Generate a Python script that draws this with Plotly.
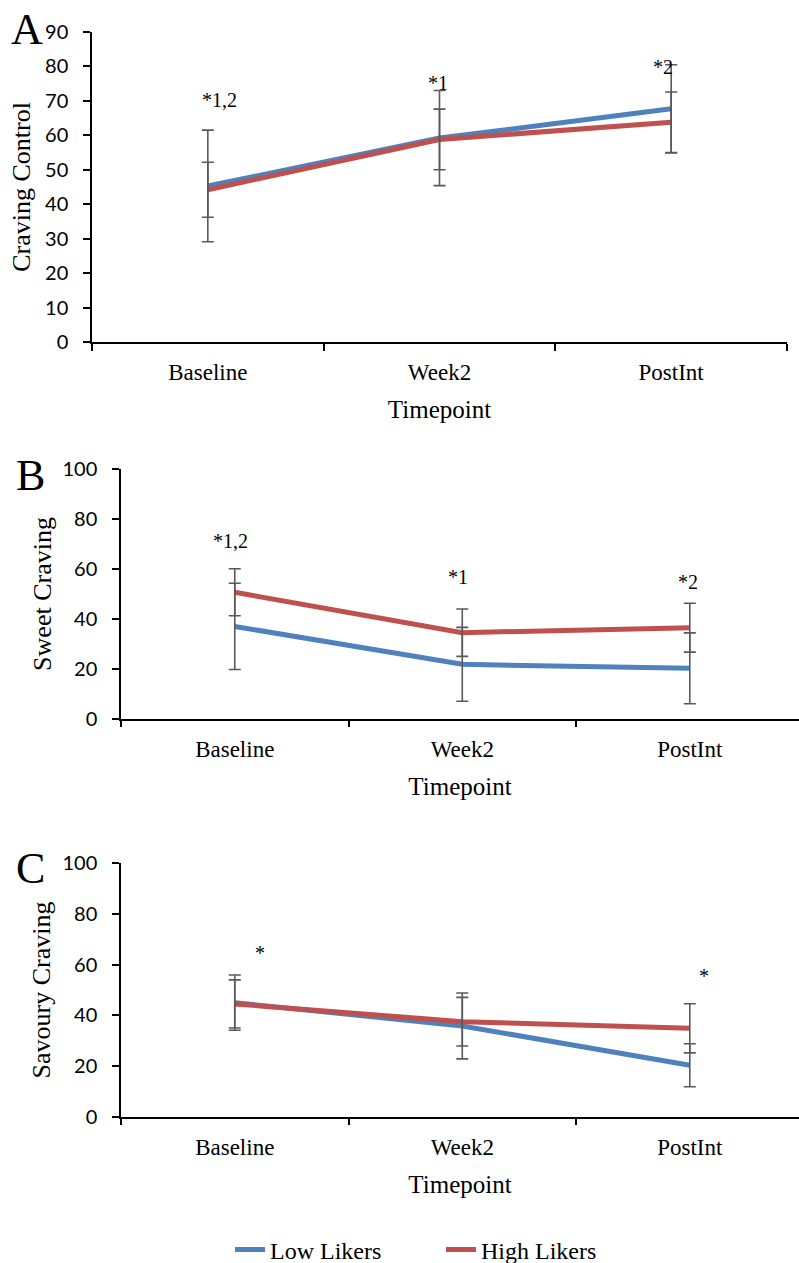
import plotly.graph_objects as go

# ---------------- data ----------------
categories = ["Baseline", "Week2", "PostInt"]
series_names = ["Low Likers", "High Likers"]

# Panel A: Craving Control
low_A = [45.3, 59.2, 67.7]
low_A_err = [16.2, 13.8, 12.8]
high_A = [44.2, 58.8, 63.8]
high_A_err = [8.0, 8.8, 8.8]
sig_A = ["*1,2", "*1", "*2"]
sig_A_y = [70.3, 75.2, 79.8]

# Panel B: Sweet Craving
low_B = [37.0, 21.8, 20.2]
low_B_err = [17.3, 14.8, 14.2]
high_B = [50.7, 34.5, 36.5]
high_B_err = [9.4, 9.5, 9.8]
sig_B = ["*1,2", "*1", "*2"]
sig_B_y = [71.2, 57.0, 55.0]

# Panel C: Savoury Craving
low_C = [45.0, 35.8, 20.3]
low_C_err = [10.9, 13.0, 8.5]
high_C = [44.5, 37.5, 34.9]
high_C_err = [9.5, 9.6, 9.7]
sig_C = ["*", "", "*"]
sig_C_y = [64.5, 0, 55.5]

y_titles = ["Craving Control", "Sweet Craving", "Savoury Craving"]
x_title = "Timepoint"
panel_letters = ["A", "B", "C"]
y_ranges = [[0, 90], [0, 100], [0, 100]]
y_dticks = [10, 20, 20]

# ---------------- style ----------------
W, H = 799, 1263
BLUE = "#4F81BD"
RED = "#C0504D"
ERR = "#595959"
SERIF = "Liberation Serif, Times New Roman, serif"
SANS = "Lato, Calibri, sans-serif"

# panel geometry in pixels: (x_left, x_right, y_top(at max), y_bottom(at 0), x_range_end)
geo = [
    (92, 787, 32, 342, 2.5),
    (121, 799, 469.3, 718.7, 2.48),
    (121, 799, 863.3, 1116.7, 2.48),
]
ytitle_standoff = [7, 3, 4]
sig_xshift = [[12, -2, -8], [-4, -4, -2], [25, 0, 14]]
letter_pos = [(27, 30), (30, 475), (30, 868)]

panels = [
    (low_A, low_A_err, high_A, high_A_err, sig_A, sig_A_y),
    (low_B, low_B_err, high_B, high_B_err, sig_B, sig_B_y),
    (low_C, low_C_err, high_C, high_C_err, sig_C, sig_C_y),
]

fig = go.Figure()
annotations = []

for i, (lo, lo_e, hi, hi_e, sig, sig_y) in enumerate(panels):
    ax = "" if i == 0 else str(i + 1)
    xref, yref = "x" + ax, "y" + ax
    show = (i == 2)
    # lines
    for vals, col, name in [(lo, BLUE, series_names[0]), (hi, RED, series_names[1])]:
        fig.add_trace(go.Scatter(
            x=categories, y=vals, mode="lines", name=name,
            line=dict(color=col, width=5),
            xaxis=xref, yaxis=yref, showlegend=show, hoverinfo="skip"))
    # error bars on top
    for vals, errs in [(lo, lo_e), (hi, hi_e)]:
        fig.add_trace(go.Scatter(
            x=categories, y=vals, mode="markers",
            marker=dict(size=1, opacity=0),
            error_y=dict(type="data", array=errs, symmetric=True,
                         color=ERR, thickness=1.6, width=6),
            xaxis=xref, yaxis=yref, showlegend=False, hoverinfo="skip"))
    # significance labels
    for j, (t, yv) in enumerate(zip(sig, sig_y)):
        if t:
            annotations.append(dict(
                x=categories[j], y=yv, xref=xref, yref=yref, text=t,
                showarrow=False, xshift=sig_xshift[i][j],
                font=dict(family=SERIF, size=20, color="black")))
    # panel letter
    lx, ly = letter_pos[i]
    annotations.append(dict(
        x=lx / W, y=1 - ly / H, xref="paper", yref="paper",
        text=panel_letters[i], showarrow=False,
        xanchor="center", yanchor="middle",
        font=dict(family=SERIF, size=44, color="black")))

    xl, xr, yt, yb, xend = geo[i]
    xa = dict(
        domain=[xl / W, xr / W], range=[-0.5, xend], type="category",
        showline=True, linecolor="black", linewidth=1.5,
        ticks="outside", tickson="boundaries", ticklen=7, tickwidth=1.5,
        tickcolor="black", showgrid=False, zeroline=False,
        tickfont=dict(family=SERIF, size=23, color="black"),
        ticklabelstandoff=9,
        title=dict(text=x_title, standoff=16,
                   font=dict(family=SERIF, size=25, color="black")),
        anchor=yref,
    )
    ya = dict(
        domain=[1 - yb / H, 1 - yt / H], range=y_ranges[i], dtick=y_dticks[i],
        showline=True, linecolor="black", linewidth=1.5,
        ticks="outside", ticklen=7, tickwidth=1.5, tickcolor="black",
        showgrid=False, zeroline=False,
        tickfont=dict(family=SANS, size=20, color="black"),
        ticklabelstandoff=11,
        title=dict(text=y_titles[i], standoff=ytitle_standoff[i],
                   font=dict(family=SERIF, size=26, color="black")),
        anchor=xref,
    )
    fig.update_layout(**{"xaxis" + ax: xa, "yaxis" + ax: ya})

fig.update_layout(
    width=W, height=H,
    margin=dict(l=0, r=0, t=0, b=0, autoexpand=False),
    paper_bgcolor="white", plot_bgcolor="white",
    annotations=annotations,
    legend=dict(orientation="h", x=230 / W, xanchor="left",
                y=1 - 1250 / H, yanchor="middle",
                font=dict(family=SERIF, size=24, color="black"),
                itemwidth=30, entrywidth=166),
)

fig.write_html(
    "out.html",
    config={"displayModeBar": False},
    post_script="document.body.style.margin='0px';document.body.style.overflow='hidden';",
)
